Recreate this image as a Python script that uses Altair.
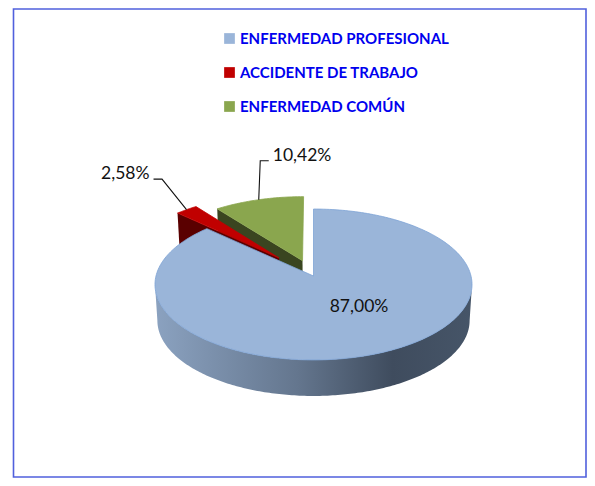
import numpy as np
import pandas as pd
import altair as alt

# ---- values ----
categories = ["ENFERMEDAD PROFESIONAL", "ACCIDENTE DE TRABAJO", "ENFERMEDAD COMÚN"]
shares = [87.00, 2.58, 10.42]
share_labels = ["87,00%", "2,58%", "10,42%"]
explode = [0.0, 0.335, 0.222]
top_colors = ["#9ab5d9", "#c00000", "#8aa64e"]
wall_colors = [None, "#5a0000", "#3a4520"]

W, H = 579, 470
# pie projection: a unit disc seen in perspective, apex of the pie on the page
CX, CY = 313.5 - 8, 276 - 8
AX, SY, K = 157.5, 74.5, 0.1125
DEPTH, SHRINK = 36, 0.015


def project(x, y, z=0.0):
    w = 1 - K * np.asarray(y)
    return (CX + AX * np.asarray(x) / w * (1 - SHRINK * z),
            CY + SY * np.asarray(y) / w + DEPTH * z)


# clockwise angles from 12 o'clock; the first slice starts there
ends = np.cumsum(shares) / 100 * 2 * np.pi
starts = ends - np.asarray(shares) / 100 * 2 * np.pi


def disc(angle, e, mid, r=1.0):
    return (e * np.sin(mid) + r * np.sin(angle), -e * np.cos(mid) - r * np.cos(angle))


def frame(xs, ys):
    return pd.DataFrame({"x": xs, "y": ys, "i": np.arange(len(xs))})


def top_surface(n):
    mid = (starts[n] + ends[n]) / 2
    a = np.linspace(starts[n], ends[n], 240 if n == 0 else 30)
    dx, dy = disc(a, explode[n], mid)
    ax, ay = disc(0.0, explode[n], mid, 0.0)
    xs, ys = project(np.r_[ax, dx, ax], np.r_[ay, dy, ay])
    d = frame(xs, ys)
    d["slice"] = categories[n]
    return d


def left_wall(n):
    mid = (starts[n] + ends[n]) / 2
    tx, ty = disc(starts[n], explode[n], mid)
    ax, ay = disc(0.0, explode[n], mid, 0.0)
    x0, y0 = project([tx, ax], [ty, ay])
    x1, y1 = project([ax, tx], [ay, ty], 1.0)
    return frame(np.r_[x0, x1], np.r_[y0, y1])


def outer_wall():
    # the silhouette of the projected disc: where cos(angle) = -K
    side = np.degrees(np.arccos(-K))
    a = np.radians(np.linspace(side, 360 - side, 200))
    dx, dy = disc(a, 0.0, 0.0)
    x0, y0 = project(dx, dy)
    x1, y1 = project(dx[::-1], dy[::-1], 1.0)
    return frame(np.r_[x0, x1], np.r_[y0, y1])


xs = alt.X("x:Q", scale=alt.Scale(domain=[0, W], range=[0, W]), axis=None)
ys = alt.Y("y:Q", scale=alt.Scale(domain=[0, H], range=[0, H]), axis=None)
order = alt.Order("i:Q")
fill = alt.Fill(
    "slice:N",
    scale=alt.Scale(domain=categories, range=top_colors),
    sort=categories,
    legend=alt.Legend(
        title=None, orient="none", legendX=214, legendY=23, symbolType="square",
        symbolSize=115, symbolStrokeWidth=0, labelFont="Lato", labelFontWeight="bold",
        labelFontSize=15, labelColor="#0000ee", rowPadding=18, labelOffset=3,
        labelLimit=300, symbolOffset=0,
    ),
)


def top_layer(n, stroke):
    return alt.Chart(top_surface(n)).mark_line(stroke=stroke, strokeWidth=0.8).encode(
        x=xs, y=ys, order=order, fill=fill)


def wall_layer(df, paint):
    return alt.Chart(df).mark_line(fill=paint, strokeWidth=0, strokeOpacity=0).encode(
        x=xs, y=ys, order=order)


side_gradient = alt.Gradient(
    gradient="linear", x1=0, x2=1, y1=0, y2=0,
    stops=[alt.GradientStop(color="#8ba2c0", offset=0),
           alt.GradientStop(color="#64768e", offset=0.45),
           alt.GradientStop(color="#3f4c5e", offset=0.75),
           alt.GradientStop(color="#465568", offset=1)],
)

# frame
frame_df = pd.DataFrame({"x": [5.5], "x2": [W - 1], "y": [1], "y2": [H - 1]})
border = alt.Chart(frame_df).mark_rect(fill=None, stroke="#5060dd", strokeWidth=1.6).encode(
    x=xs, y=ys, x2="x2:Q", y2="y2:Q")

# leader lines start on the middle of each exploded slice's rim
leaders = []
texts = []
for n, (ex, ey, hx, tx, ty, al) in {
    1: (-24.5, -30.5, -8.5, -4, -5, "right"),
    2: (1.5, -39, 8.5, 4, -5, "left"),
}.items():
    mid = (starts[n] + ends[n]) / 2
    dx, dy = disc(mid, explode[n], mid)
    px, py = project(dx, dy)
    lx = [px, px + ex, px + ex + hx]
    ly = [py, py + ey, py + ey]
    leaders.append(alt.Chart(frame(lx, ly)).mark_line(stroke="#111111", strokeWidth=1.1).encode(
        x=xs, y=ys, order=order))
    texts.append(alt.Chart(pd.DataFrame({"x": [lx[2] + tx], "y": [ly[2] + ty], "t": [share_labels[n]]}))
                 .mark_text(font="Lato", fontSize=17.5, color="#111111", align=al, baseline="middle")
                 .encode(x=xs, y=ys, text="t:N"))

main_label = alt.Chart(pd.DataFrame({"x": [CX + 45.5], "y": [CY + 31], "t": [share_labels[0]]})).mark_text(
    font="Lato", fontSize=17.5, color="#111111", align="center", baseline="middle"
).encode(x=xs, y=ys, text="t:N")

chart = alt.layer(
    border,
    wall_layer(left_wall(2), wall_colors[2]),
    top_layer(2, "#8aa64e"),
    wall_layer(left_wall(1), wall_colors[1]),
    top_layer(1, "#c00000"),
    wall_layer(outer_wall(), side_gradient),
    top_layer(0, "#7da3d6"),
    main_label,
    *leaders,
    *texts,
).properties(
    width=W, height=H, padding=0, background="white",
    autosize=alt.AutoSizeParams(type="none"),
).configure_view(stroke=None)

chart.save("out.html", embed_options={"renderer": "svg", "actions": False})
